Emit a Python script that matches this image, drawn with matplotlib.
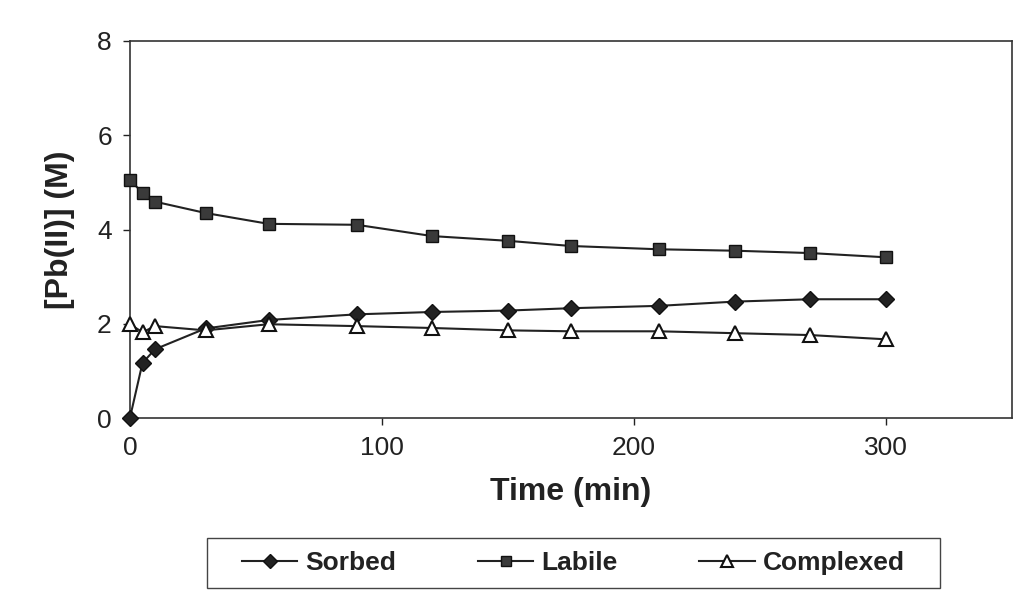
import matplotlib
matplotlib.use("Agg")
import matplotlib.pyplot as plt
from matplotlib.patches import Rectangle

time_min = [0, 5, 10, 30, 55, 90, 120, 150, 175, 210, 240, 270, 300]
sorbed = [0.0, 1.17, 1.46, 1.90, 2.08, 2.20, 2.25, 2.28, 2.33, 2.38, 2.47, 2.52, 2.52]
labile = [5.05, 4.78, 4.59, 4.35, 4.12, 4.10, 3.86, 3.76, 3.65, 3.58, 3.55, 3.50, 3.41]
complexed = [1.99, 1.82, 1.95, 1.86, 1.99, 1.95, 1.91, 1.86, 1.84, 1.84, 1.80, 1.76, 1.67]
xticks = [0, 100, 200, 300]
yticks = [0, 2, 4, 6, 8]

plt.rcParams['font.family'] = ['Liberation Sans', 'DejaVu Sans']

fig = plt.figure(figsize=(10.31, 6.0), dpi=100)
ax = fig.add_axes([0.126, 0.3033, 0.8556, 0.6284])

lc = '#222222'
ax.plot(time_min, sorbed, color=lc, lw=1.5, marker='D', markersize=8,
        markerfacecolor='#222222', markeredgecolor='#111111', label='Sorbed',
        clip_on=False, zorder=3)
ax.plot(time_min, labile, color=lc, lw=1.5, marker='s', markersize=9,
        markerfacecolor='#3a3a3a', markeredgecolor='#111111', label='Labile',
        clip_on=False, zorder=3)
ax.plot(time_min, complexed, color=lc, lw=1.5, marker='^', markersize=10,
        markerfacecolor='white', markeredgecolor='#111111', markeredgewidth=1.5,
        label='Complexed', clip_on=False, zorder=3)

ax.set_xlim(0, 350)
ax.set_ylim(0, 8)
ax.set_xticks(xticks)
ax.set_yticks(yticks)
ax.tick_params(axis='both', labelsize=19, direction='out', length=5, width=1,
               colors='#222222', pad=8)
for s in ax.spines.values():
    s.set_color('#333333')
    s.set_linewidth(1.2)

ax.set_xlabel('Time (min)', fontsize=23, fontweight='bold', labelpad=12, color='#222222')
ax.set_ylabel('[Pb(II)] (M)', fontsize=23, fontweight='bold', labelpad=16, color='#222222')

leg = fig.legend(loc='center', bbox_to_anchor=(0.556, 0.0617), ncol=3,
                 prop={'size': 19, 'weight': 'bold'}, frameon=False,
                 handlelength=2.1, columnspacing=3.1,
                 borderpad=0.5, handletextpad=0.3, markerscale=0.85)
for t in leg.get_texts():
    t.set_color('#222222')

fig.patches.append(Rectangle((207 / 1031, 12 / 600), 733 / 1031, 50 / 600,
                             transform=fig.transFigure, fill=False,
                             edgecolor='#444444', linewidth=1.0))

fig.savefig('out.png', dpi=100)
